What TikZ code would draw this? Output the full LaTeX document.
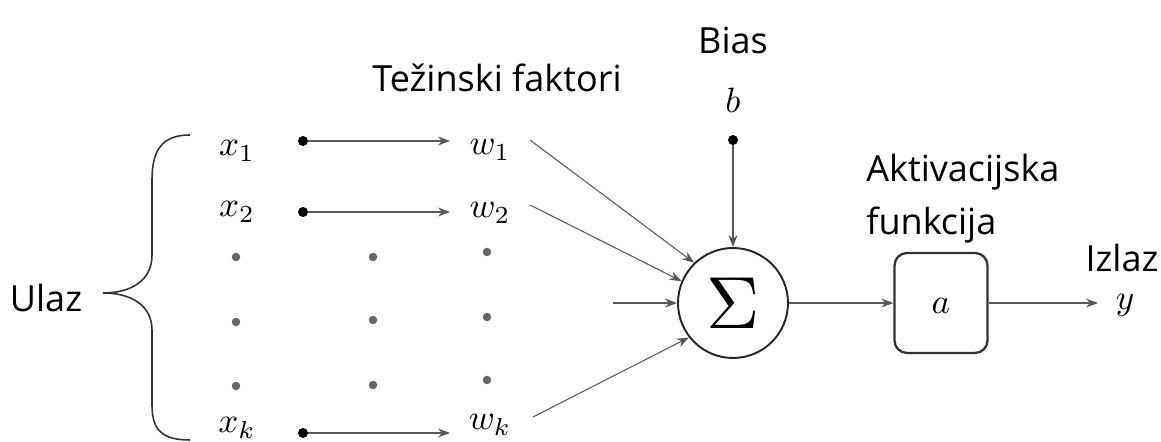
\documentclass[tikz,border=0pt]{standalone}
\usepackage{fontspec}
\setmainfont{Open Sans}
\usetikzlibrary{arrows.meta,calc}
\newcommand{\mymth}[1]{\scalebox{2.0}{$#1$}}
\begin{document}
\begin{tikzpicture}[x=0.02cm,y=-0.02cm,
  lbl/.style={font=\fontsize{20.5}{24}\selectfont, inner sep=0pt},
  mth/.style={inner sep=1pt},
  dotb/.style={circle, fill=black, inner sep=0pt, minimum size=0.2cm},
  dotg/.style={circle, fill=black!60, inner sep=0pt, minimum size=0.17cm},
  conn/.style={draw=black!65, line width=0.6pt, -{Stealth[length=2.4mm,width=1.8mm]}},
  sumnode/.style={circle, draw=black!85, line width=1.1pt, minimum size=2.2cm, inner sep=0pt},
  actbox/.style={draw=black!80, line width=1.3pt, rounded corners=0.25cm, minimum width=1.86cm, minimum height=2cm, inner sep=0pt}
]
\useasboundingbox (0,0) rectangle (1161,442);
% labels
\node[lbl] (ulaz) at (46,298) {Ulaz};
\node[lbl] (tez) at (497,78) {Težinski faktori};
\node[lbl] (bias) at (733,40) {Bias};
\node[lbl, anchor=west] (akt) at (866,172) {Aktivacijska};
\node[lbl, anchor=west] (fun) at (866,225) {funkcija};
\node[lbl] (izlaz) at (1122,258) {Izlaz};
% brace
\draw[black!80, line width=0.9pt] (190,135) .. controls (162,135) and (152,150) .. (152,180) -- (152,255) .. controls (152,280) and (132,293) .. (103,293)
  .. controls (132,293) and (152,306) .. (152,330) -- (152,405) .. controls (152,430) and (162,440) .. (190,440);
% inputs
\node[mth] (x1) at (237,151) {\mymth{x_1}};
\node[mth] (x2) at (237,212) {\mymth{x_2}};
\node[mth] (xk) at (237,428) {\mymth{x_k}};
\node[dotg] (xa) at (236,257) {};
\node[dotg] (xb) at (236,322) {};
\node[dotg] (xc) at (236,386) {};
\node[dotb] (d1) at (303,141) {};
\node[dotb] (d2) at (303,212) {};
\node[dotb] (dk) at (303,433) {};
\node[dotg] (ma) at (373,257) {};
\node[dotg] (mb) at (373,320) {};
\node[dotg] (mc) at (373,385) {};
\node[mth] (w1) at (490,150) {\mymth{w_1}};
\node[mth] (w2) at (490,213) {\mymth{w_2}};
\node[mth] (wk) at (490,425) {\mymth{w_k}};
\node[dotg] (wa) at (487,252) {};
\node[dotg] (wb) at (487,317) {};
\node[dotg] (wc) at (487,380) {};
\draw[conn] (d1) -- (450,141) coordinate (t1);
\draw[conn] (d2) -- (450,212) coordinate (t2);
\draw[conn] (dk) -- (450,433) coordinate (tk);
% summation
\node[sumnode] (sum) at (733,303) {\scalebox{4.2}{$\Sigma$}};
\node[mth] (b) at (733,100) {\mymth{b}};
\node[dotb] (bd) at (733,140) {};
\draw[conn] (bd) -- (sum.north);
\coordinate (s1) at (530,140);
\coordinate (s2) at (530,205);
\coordinate (s3) at (613,303);
\coordinate (sk) at (533,417);
\draw[conn] (s1) -- (sum.134);
\draw[conn] (s2) -- (sum.157);
\draw[conn] (s3) -- (sum.west);
\draw[conn] (sk) -- (sum.218);
% activation
\node[actbox] (act) at (941,303) {};
\node[mth] (a) at (941,306) {\mymth{a}};
\draw[conn] (sum.east) -- (act.west);
\coordinate (yend) at (1098,303);
\draw[conn] (act.east) -- (yend);
\node[mth] (y) at (1125,305) {\mymth{y}};
\end{tikzpicture}
\end{document}
